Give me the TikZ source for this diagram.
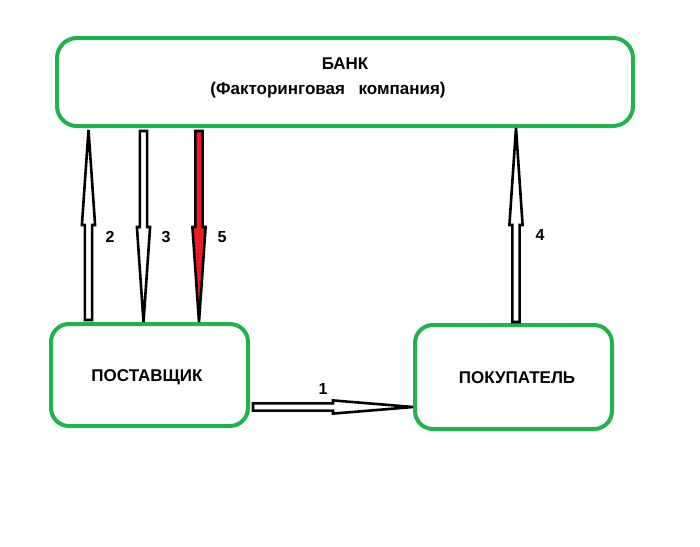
\documentclass[tikz,border=0pt]{standalone}
\usepackage{fontspec}
\setmainfont{Liberation Sans}
\usetikzlibrary{calc}
\definecolor{boxgreen}{RGB}{34,177,76}
\definecolor{arrred}{RGB}{237,28,36}
\tikzset{
  box/.style={draw=boxgreen, line width=4pt, rounded corners=20pt, fill=white, inner sep=0pt},
  fat/.style={draw=black, line width=2.6pt, line join=miter},
  lbl/.style={font=\bfseries\fontsize{17}{19}\selectfont, inner sep=0pt},
  num/.style={font=\bfseries\fontsize{16}{18}\selectfont, inner sep=0pt}
}
% #1 fill, #2 from, #3 to, #4 head length
\newcommand\fatarrow[4][white]{%
  \coordinate (hb) at ($(#3)!#4!(#2)$);
  \draw[fat, fill=#1]
    ($(#2)!3.6pt!90:(#3)$) -- ($(hb)!3.6pt!90:(#3)$) -- ($(hb)!6.6pt!90:(#3)$) --
    (#3) --
    ($(hb)!6.6pt!-90:(#3)$) -- ($(hb)!3.6pt!-90:(#3)$) -- ($(#2)!3.6pt!-90:(#3)$) -- cycle;
}
\begin{document}
\begin{tikzpicture}[x=1pt, y=-1pt]
\useasboundingbox (0,0) rectangle (700,546);
\fill[white] (0,0) rectangle (700,546);

\node[box, minimum width=576pt, minimum height=88pt] (bank) at (345,82) {};
\node[lbl] (bankt) at (345,64) {БАНК};
\node[lbl] (bankf) at (328,90) {(Факторинговая\hspace{0.8em}компания)};

\node[box, minimum width=197pt, minimum height=102pt, rounded corners=18pt] (sup) at (149.5,375) {};
\node[lbl] (supt) at (147,377) {ПОСТАВЩИК};

\node[box, minimum width=197pt, minimum height=104pt, rounded corners=18pt] (buy) at (513.5,377) {};
\node[lbl] (buyt) at (517,378) {ПОКУПАТЕЛЬ};

% arrow 2 (up)
\coordinate (a2b) at (88.5,320);
\coordinate (a2t) at (88.5,130);
\fatarrow{a2b}{a2t}{95pt}
% arrow 3 (down)
\coordinate (a3t) at (143.5,131);
\coordinate (a3b) at (143.5,322);
\fatarrow{a3t}{a3b}{95pt}
% arrow 5 (down, red)
\coordinate (a5t) at (199,131);
\coordinate (a5b) at (199,322);
\fatarrow[arrred]{a5t}{a5b}{95pt}
% arrow 4 (up)
\coordinate (a4b) at (516,322);
\coordinate (a4t) at (516,128);
\fatarrow{a4b}{a4t}{97pt}
% arrow 1 (right)
\coordinate (a1l) at (253,407);
\coordinate (a1r) at (413,407);
\fatarrow{a1l}{a1r}{80pt}

\node[num] (n2) at (110,237) {2};
\node[num] (n3) at (166,237) {3};
\node[num] (n5) at (222,237) {5};
\node[num] (n4) at (540,235) {4};
\node[num] (n1) at (323,389) {1};
\end{tikzpicture}
\end{document}
